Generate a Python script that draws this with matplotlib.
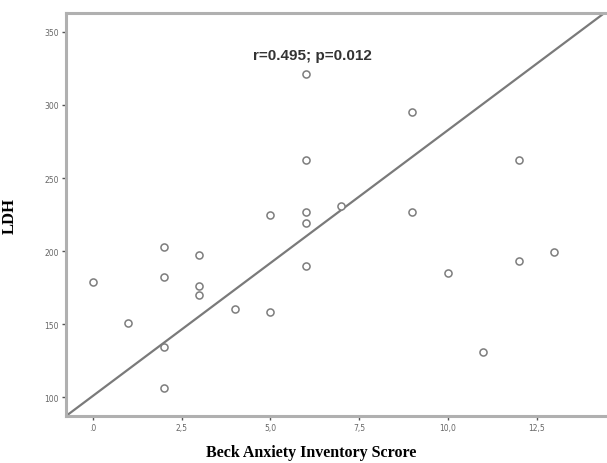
import matplotlib
matplotlib.use("Agg")
import matplotlib.pyplot as plt
import numpy as np

# data
bai_score = [0, 1, 2, 2, 2, 2, 3, 3, 3, 4, 5, 5, 6, 6, 6, 6, 6, 7, 9, 9, 10, 11, 12, 12, 13]
ldh = [179, 151, 203, 182, 134, 106, 197, 176, 170, 160, 225, 158,
       321, 262, 227, 219, 190, 231, 295, 227, 185, 131, 262, 193, 199]

# reference line (intercept, slope) as drawn in the chart
line_intercept = 100.8
line_slope = 18.2

xtick_pos = [0, 2.5, 5.0, 7.5, 10.0, 12.5]
xtick_lbl = [".0", "2,5", "5,0", "7,5", "10,0", "12,5"]
ytick_pos = [100, 150, 200, 250, 300, 350]

fig = plt.figure(figsize=(6.07, 4.64), dpi=100)
ax = fig.add_axes([0.1087, 0.1013, 0.8913, 0.8685])

xlim = (-0.76, 14.48)
ylim = (87, 363)

xs = np.array(xlim)
ax.plot(xs, line_intercept + line_slope * xs, color="#7a7a7a", lw=1.6, zorder=2)

ax.scatter(bai_score, ldh, s=26, facecolors="white", edgecolors="#7d7d7d",
           linewidths=1.1, zorder=3)

ax.set_xlim(*xlim)
ax.set_ylim(*ylim)

ax.set_xticks(xtick_pos)
ax.set_xticklabels(xtick_lbl)
ax.set_yticks(ytick_pos)
ax.tick_params(axis="both", labelsize=5.5, labelcolor="#666666", color="#555555",
               length=3, width=1, pad=2)

for side in ["left", "bottom", "top"]:
    ax.spines[side].set_color("#b0b0b0")
    ax.spines[side].set_linewidth(2.2)
ax.spines["right"].set_visible(False)

# x label sits low, centred left of the axes middle (the original is cropped on the right)
fig.text(311 / 607, 1 - 453 / 464, "Beck Anxiety Inventory Scrore",
         family="Liberation Serif", fontweight="bold", fontsize=11.5,
         ha="center", va="center")
ax.set_ylabel("LDH", family="Liberation Serif", fontweight="bold", fontsize=12)
ax.yaxis.set_label_coords(-0.09, 0.5)

ax.text(6.17, 334, "r=0.495; p=0.012", family="Liberation Sans", fontweight="bold",
        fontsize=11, color="#333333", ha="center", va="center")

fig.savefig("out.png", dpi=100)
